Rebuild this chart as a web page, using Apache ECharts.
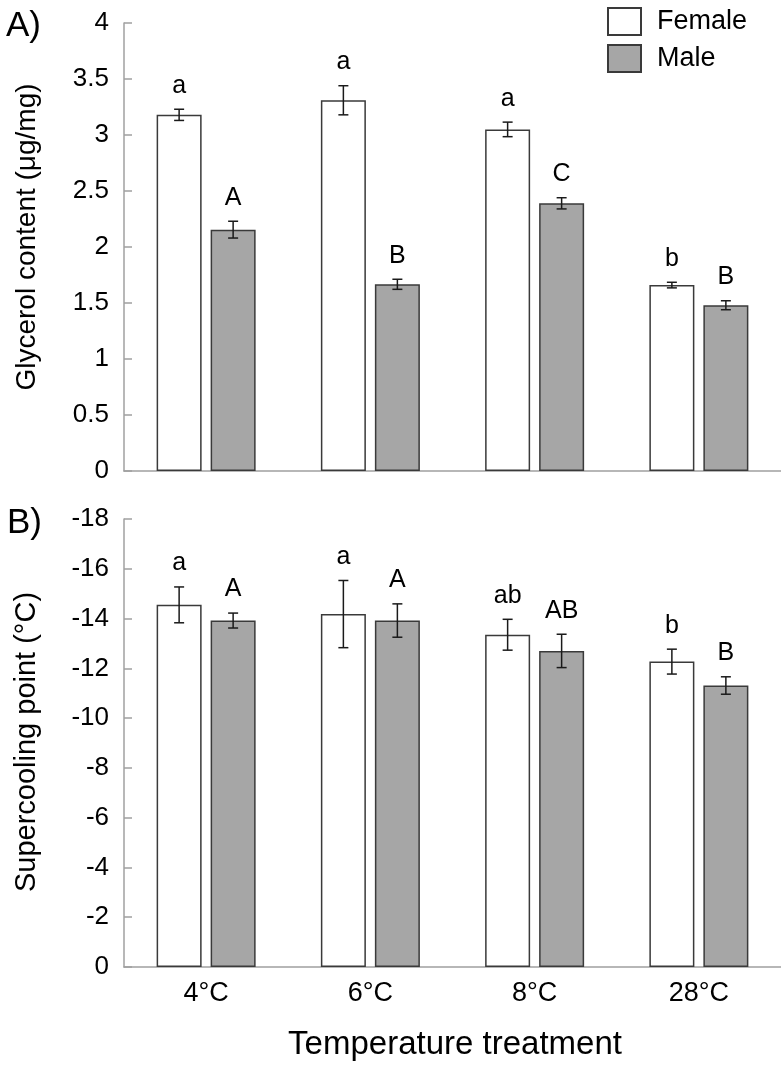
<!DOCTYPE html>
<html>
<head>
<meta charset="utf-8">
<script src="https://cdn.jsdelivr.net/npm/echarts@6/dist/echarts.min.js"></script>
<style>
html,body{margin:0;padding:0;background:#fff;}
#chart{width:781px;height:1072px;}
</style>
</head>
<body>
<div id="chart"></div>
<script>
const categories = ['4°C', '6°C', '8°C', '28°C'];

const glycerolFemale = [3.18, 3.31, 3.05, 1.66];
const glycerolFemaleSE = [0.05, 0.13, 0.065, 0.025];
const glycerolMale = [2.155, 1.667, 2.39, 1.48];
const glycerolMaleSE = [0.075, 0.045, 0.05, 0.04];
const glycerolFemaleLetters = ['a', 'a', 'a', 'b'];
const glycerolMaleLetters = ['A', 'B', 'C', 'B'];

const scpFemale = [-14.55, -14.18, -13.35, -12.27];
const scpFemaleSE = [0.72, 1.35, 0.62, 0.5];
const scpMale = [-13.92, -13.92, -12.70, -11.31];
const scpMaleSE = [0.3, 0.67, 0.67, 0.35];
const scpFemaleLetters = ['a', 'a', 'ab', 'b'];
const scpMaleLetters = ['A', 'A', 'AB', 'B'];

const FONT = '"Liberation Sans", Arial, sans-serif';
const BAR_W = 45;
const OFFSET = 27;
const femaleStyle = { color: '#ffffff', borderColor: '#3a3a3a', borderWidth: 1.5 };
const maleStyle = { color: '#a6a6a6', borderColor: '#3a3a3a', borderWidth: 1.5 };

function errSeries(name, gi, values, ses, letters, dx) {
  return {
    type: 'custom',
    name: name + '_err',
    xAxisIndex: gi, yAxisIndex: gi,
    silent: true,
    z: 10,
    data: values.map((v, i) => [i, v, ses[i]]),
    renderItem: function (params, api) {
      const i = api.value(0), v = api.value(1), se = api.value(2);
      const p1 = api.coord([i, v - se]);
      const p2 = api.coord([i, v + se]);
      const x = p1[0] + dx;
      const yTop = Math.min(p1[1], p2[1]);
      const yBot = Math.max(p1[1], p2[1]);
      const st = { stroke: '#1a1a1a', lineWidth: 1.5 };
      return {
        type: 'group',
        children: [
          { type: 'line', shape: { x1: x, y1: yTop, x2: x, y2: yBot }, style: st },
          { type: 'line', shape: { x1: x - 5, y1: yTop, x2: x + 5, y2: yTop }, style: st },
          { type: 'line', shape: { x1: x - 5, y1: yBot, x2: x + 5, y2: yBot }, style: st },
          { type: 'text', style: { text: letters[params.dataIndex], x: x, y: yTop - 11,
            align: 'center', verticalAlign: 'bottom', fontSize: 25, fontFamily: FONT, fill: '#000' } }
        ]
      };
    }
  };
}

const chart = echarts.init(document.getElementById('chart'));
const yAxisCommon = {
  type: 'value',
  axisLine: { show: true, lineStyle: { color: '#a0a0a0', width: 1.5 } },
  axisTick: { show: true, inside: true, length: 8, lineStyle: { color: '#a0a0a0', width: 1.5 } },
  splitLine: { show: false },
  axisLabel: { fontSize: 26, fontFamily: FONT, color: '#000', margin: 15 }
};
chart.setOption({
  animation: false,
  backgroundColor: '#fff',
  grid: [
    { left: 124, right: -2, top: 23, height: 448 },
    { left: 124, right: -2, top: 519, height: 448 }
  ],
  legend: {
    data: ['Female', 'Male'],
    orient: 'vertical',
    left: 607, top: 7,
    padding: 0,
    icon: 'rect',
    itemWidth: 33, itemHeight: 27, itemGap: 8,
    textStyle: { fontSize: 27, fontFamily: FONT, color: '#000', padding: [0, 0, 0, 11] },
    selectedMode: false
  },
  xAxis: [
    { type: 'category', data: categories, gridIndex: 0,
      axisLine: { lineStyle: { color: '#a0a0a0', width: 1.5 } },
      axisTick: { show: false }, axisLabel: { show: false } },
    { type: 'category', data: categories, gridIndex: 1,
      axisLine: { lineStyle: { color: '#a0a0a0', width: 1.5 } },
      axisTick: { show: false },
      axisLabel: { fontSize: 27, fontFamily: FONT, color: '#000', margin: 13 } }
  ],
  yAxis: [
    Object.assign({}, yAxisCommon, { gridIndex: 0, min: 0, max: 4, interval: 0.5 }),
    Object.assign({}, yAxisCommon, { gridIndex: 1, min: -18, max: 0, interval: 2, inverse: true })
  ],
  series: [
    { type: 'bar', name: 'Female', xAxisIndex: 0, yAxisIndex: 0, data: glycerolFemale,
      barWidth: BAR_W, barGap: '20%', itemStyle: femaleStyle },
    { type: 'bar', name: 'Male', xAxisIndex: 0, yAxisIndex: 0, data: glycerolMale,
      barWidth: BAR_W, barGap: '20%', itemStyle: maleStyle },
    { type: 'bar', name: 'Female', xAxisIndex: 1, yAxisIndex: 1, data: scpFemale,
      barWidth: BAR_W, barGap: '20%', itemStyle: femaleStyle },
    { type: 'bar', name: 'Male', xAxisIndex: 1, yAxisIndex: 1, data: scpMale,
      barWidth: BAR_W, barGap: '20%', itemStyle: maleStyle },
    errSeries('gf', 0, glycerolFemale, glycerolFemaleSE, glycerolFemaleLetters, -OFFSET),
    errSeries('gm', 0, glycerolMale, glycerolMaleSE, glycerolMaleLetters, OFFSET),
    errSeries('sf', 1, scpFemale, scpFemaleSE, scpFemaleLetters, -OFFSET),
    errSeries('sm', 1, scpMale, scpMaleSE, scpMaleLetters, OFFSET)
  ],
  graphic: [
    { type: 'text', left: 6, top: 9, style: { text: 'A)', fontSize: 35, fontFamily: FONT, fill: '#000' } },
    { type: 'text', left: 7, top: 506, style: { text: 'B)', fontSize: 35, fontFamily: FONT, fill: '#000' } },
    { type: 'text', x: 27, y: 237, rotation: Math.PI / 2,
      style: { text: 'Glycerol content (μg/mg)', fontSize: 28, fontFamily: FONT, fill: '#000', align: 'center', verticalAlign: 'middle' } },
    { type: 'text', x: 27, y: 742, rotation: Math.PI / 2,
      style: { text: 'Supercooling point (°C)', fontSize: 29, fontFamily: FONT, fill: '#000', align: 'center', verticalAlign: 'middle' } },
    { type: 'text', x: 455, y: 1045,
      style: { text: 'Temperature treatment', fontSize: 33, fontFamily: FONT, fill: '#000', align: 'center', verticalAlign: 'middle' } }
  ]
});
</script>
</body>
</html>
